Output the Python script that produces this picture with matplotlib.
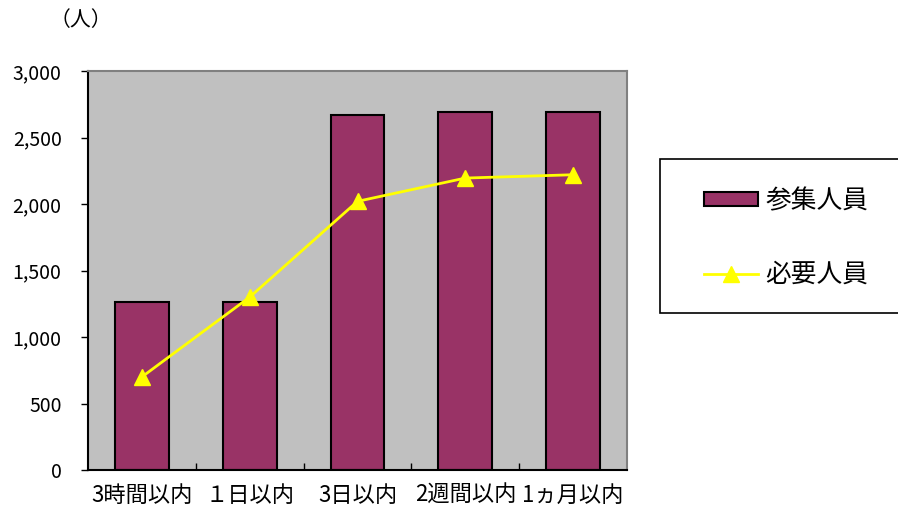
import matplotlib
matplotlib.use("Agg")
import matplotlib.pyplot as plt
from matplotlib.patches import Rectangle
from matplotlib.ticker import FuncFormatter, FixedLocator

plt.rcParams["font.family"] = ["Noto Sans CJK JP", "DejaVu Sans"]

# ---- data ---------------------------------------------------------------
categories = ["3時間以内", "１日以内", "3日以内", "2週間以内", "1ヵ月以内"]
gathered = [1260, 1260, 2670, 2690, 2690]   # 参集人員
required = [700, 1300, 2020, 2195, 2220]    # 必要人員

W, H = 898, 519
fig = plt.figure(figsize=(W / 100, H / 100), dpi=100)
ax = fig.add_axes([88 / W, 49 / H, 539 / W, 399 / H])
ax.set_facecolor("#C0C0C0")

x = list(range(len(categories)))
bars = ax.bar(x, gathered, width=0.5, color="#993366", edgecolor="black",
              linewidth=1.5, label="参集人員", zorder=2)
line, = ax.plot(x, required, color="#FFFF00", linewidth=2, marker="^",
                markersize=11, markerfacecolor="#FFFF00",
                markeredgecolor="#FFFF00", label="必要人員", zorder=3)

ax.set_xlim(-0.5, len(categories) - 0.5)
ax.set_ylim(0, 3000)
ax.set_yticks(range(0, 3001, 500))
ax.yaxis.set_major_formatter(FuncFormatter(lambda v, _: f"{int(v):,}"))
ax.tick_params(axis="y", direction="out", length=5, width=1, pad=14,
               labelsize=14, colors="black")

ax.set_xticks(x)
ax.set_xticklabels(categories, fontsize=16)
ax.tick_params(axis="x", which="major", length=0, pad=10)
ax.xaxis.set_minor_locator(FixedLocator([i + 0.5 for i in range(len(categories) - 1)]))
ax.tick_params(axis="x", which="minor", direction="in", length=5, width=1)

for side in ("left", "bottom"):
    ax.spines[side].set_color("black")
    ax.spines[side].set_linewidth(1.5)
for side in ("top", "right"):
    ax.spines[side].set_color("#808080")
    ax.spines[side].set_linewidth(1.5)

fig.text(81 / W, 1 - 20 / H, "（人）", ha="center", va="center", fontsize=15)

# legend box (runs off the right edge like the original)
fig.patches.append(Rectangle((660 / W, (H - 313) / H), 260 / W, 154 / H,
                             transform=fig.transFigure, facecolor="white",
                             edgecolor="black", linewidth=1.2, zorder=0))
leg = fig.legend([bars, line], ["参集人員", "必要人員"], loc="upper left",
                 bbox_to_anchor=(704 / W, (H - 188) / H),
                 fontsize=18.5, frameon=False, handlelength=2.1,
                 handleheight=0.45, handletextpad=0.3, labelspacing=1.85,
                 borderpad=0, borderaxespad=0)

fig.savefig("out.png", dpi=100)
